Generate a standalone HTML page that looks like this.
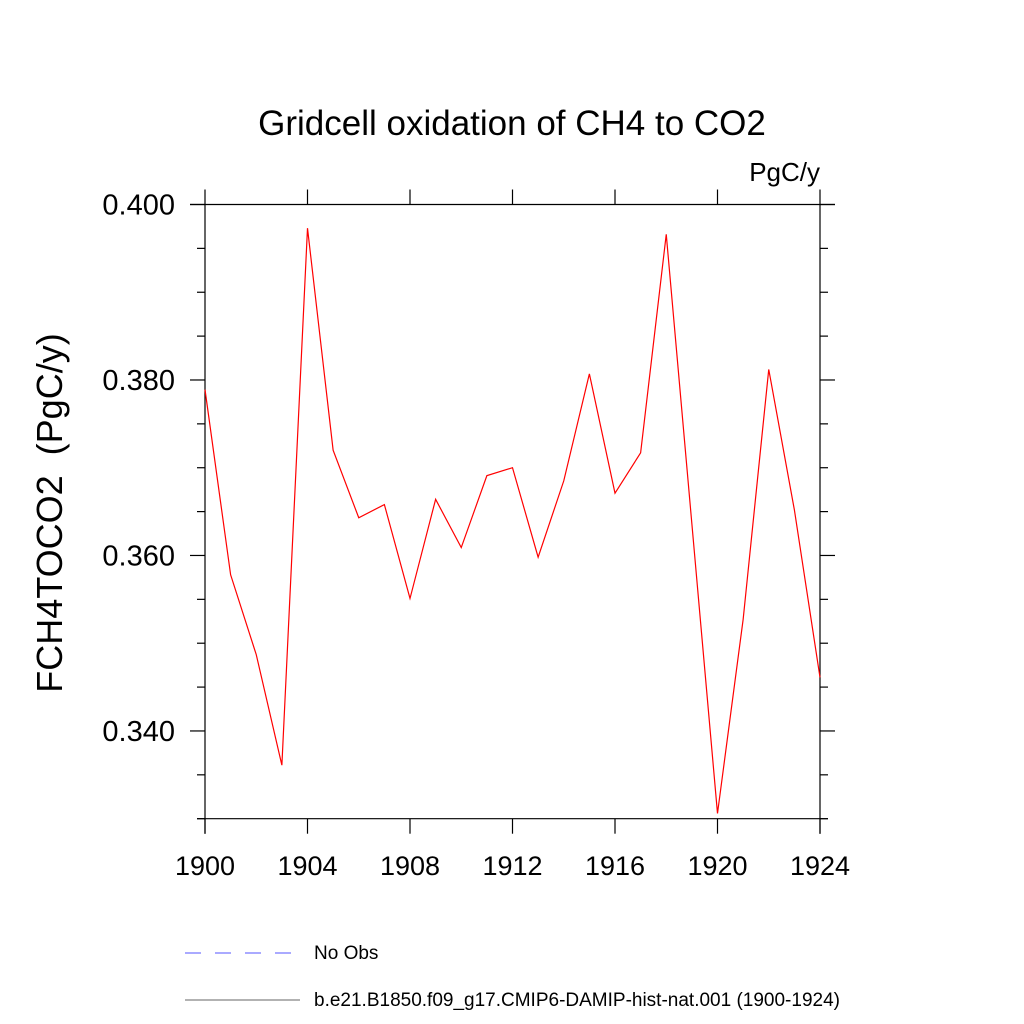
<!DOCTYPE html>
<html><head><meta charset="utf-8"><style>body{margin:0;background:#fff}svg{display:block}</style></head>
<body>
<svg id="chart" width="1024" height="1024" xmlns="http://www.w3.org/2000/svg" font-family="Liberation Sans, sans-serif">
<rect width="1024" height="1024" fill="#fff"/>
<text x="512" y="135" font-size="35" text-anchor="middle">Gridcell oxidation of CH4 to CO2</text>
<text x="820" y="181" font-size="26" text-anchor="end">PgC/y</text>
<text transform="translate(62,513) rotate(-90)" font-size="36" text-anchor="middle">FCH4TOCO2&#160;&#160;(PgC/y)</text>
<g id="axes" stroke="#000" stroke-width="1.2"></g>
<polyline id="series" fill="none" stroke="#ff0000" stroke-width="1.2"/>
<g id="labels"></g>
<line x1="185" y1="953" x2="292" y2="953" stroke="#5555ff" stroke-width="1" stroke-dasharray="16,14"/>
<text x="314" y="959" font-size="19">No Obs</text>
<line x1="185" y1="1000" x2="300" y2="1000" stroke="#666" stroke-width="1"/>
<text x="314" y="1006" font-size="19">b.e21.B1850.f09_g17.CMIP6-DAMIP-hist-nat.001 (1900-1924)</text>
</svg>
<script>
const years=[1900,1901,1902,1903,1904,1905,1906,1907,1908,1909,1910,1911,1912,1913,1914,1915,1916,1917,1918,1919,1920,1921,1922,1923,1924];
const values=[0.3789,0.3578,0.3487,0.3361,0.3973,0.3720,0.3643,0.3658,0.3551,0.3664,0.3609,0.3691,0.3700,0.3598,0.3685,0.3807,0.3671,0.3717,0.3966,0.3636,0.3306,0.3527,0.3812,0.3652,0.3461];
const xTicks=[1900,1904,1908,1912,1916,1920,1924];
const yTicks=[0.340,0.360,0.380,0.400];
const yLabels=["0.340","0.360","0.380","0.400"];
const X0=205,X1=820,Y0=818.7,Y1=204.5;
const xs=v=>X0+(v-1900)/24*(X1-X0);
const ys=v=>Y0-(v-0.330)/0.070*(Y0-Y1);
const NS="http://www.w3.org/2000/svg";
const ax=document.getElementById('axes'),lb=document.getElementById('labels');
function L(x1,y1,x2,y2,n){const l=document.createElementNS(NS,'line');l.setAttribute('x1',x1);l.setAttribute('y1',y1);l.setAttribute('x2',x2);l.setAttribute('y2',y2);


ax.appendChild(l);}
L(X0,Y1,X0,Y0+15,'left-axis');L(X1,Y1,X1,Y0+15,'right-axis');L(X0-15,Y1,X1+15,Y1,'top-axis');L(X0-8,Y0,X1+8,Y0,'bottom-axis');
xTicks.forEach(y=>{const x=xs(y);L(x,Y1,x,Y1-15,'x-tick-top');L(x,Y0,x,Y0+15,'x-tick-bottom');});
for(let v=0.330;v<=0.4001;v+=0.005){const y=ys(v);const maj=Math.abs((v*1000)%20)<0.5||Math.abs((v*1000)%20-20)<0.5;
L(X0,y,X0-(maj?15:8),y,'y-tick-left');L(X1,y,X1+(maj?15:8),y,'y-tick-right');}
xTicks.forEach(v=>{const t=document.createElementNS(NS,'text');t.setAttribute('x',xs(v));t.setAttribute('y',875);t.setAttribute('font-size','27');t.setAttribute('text-anchor','middle');t.textContent=v;


lb.appendChild(t);});
yTicks.forEach((v,i)=>{const t=document.createElementNS(NS,'text');t.setAttribute('x',175);t.setAttribute('y',ys(v)+10);t.setAttribute('font-size','29');t.setAttribute('text-anchor','end');t.textContent=yLabels[i];


lb.appendChild(t);});
document.getElementById('series').setAttribute('points',years.map((y,i)=>xs(y)+','+ys(values[i])).join(' '));
</script>
</body></html>
